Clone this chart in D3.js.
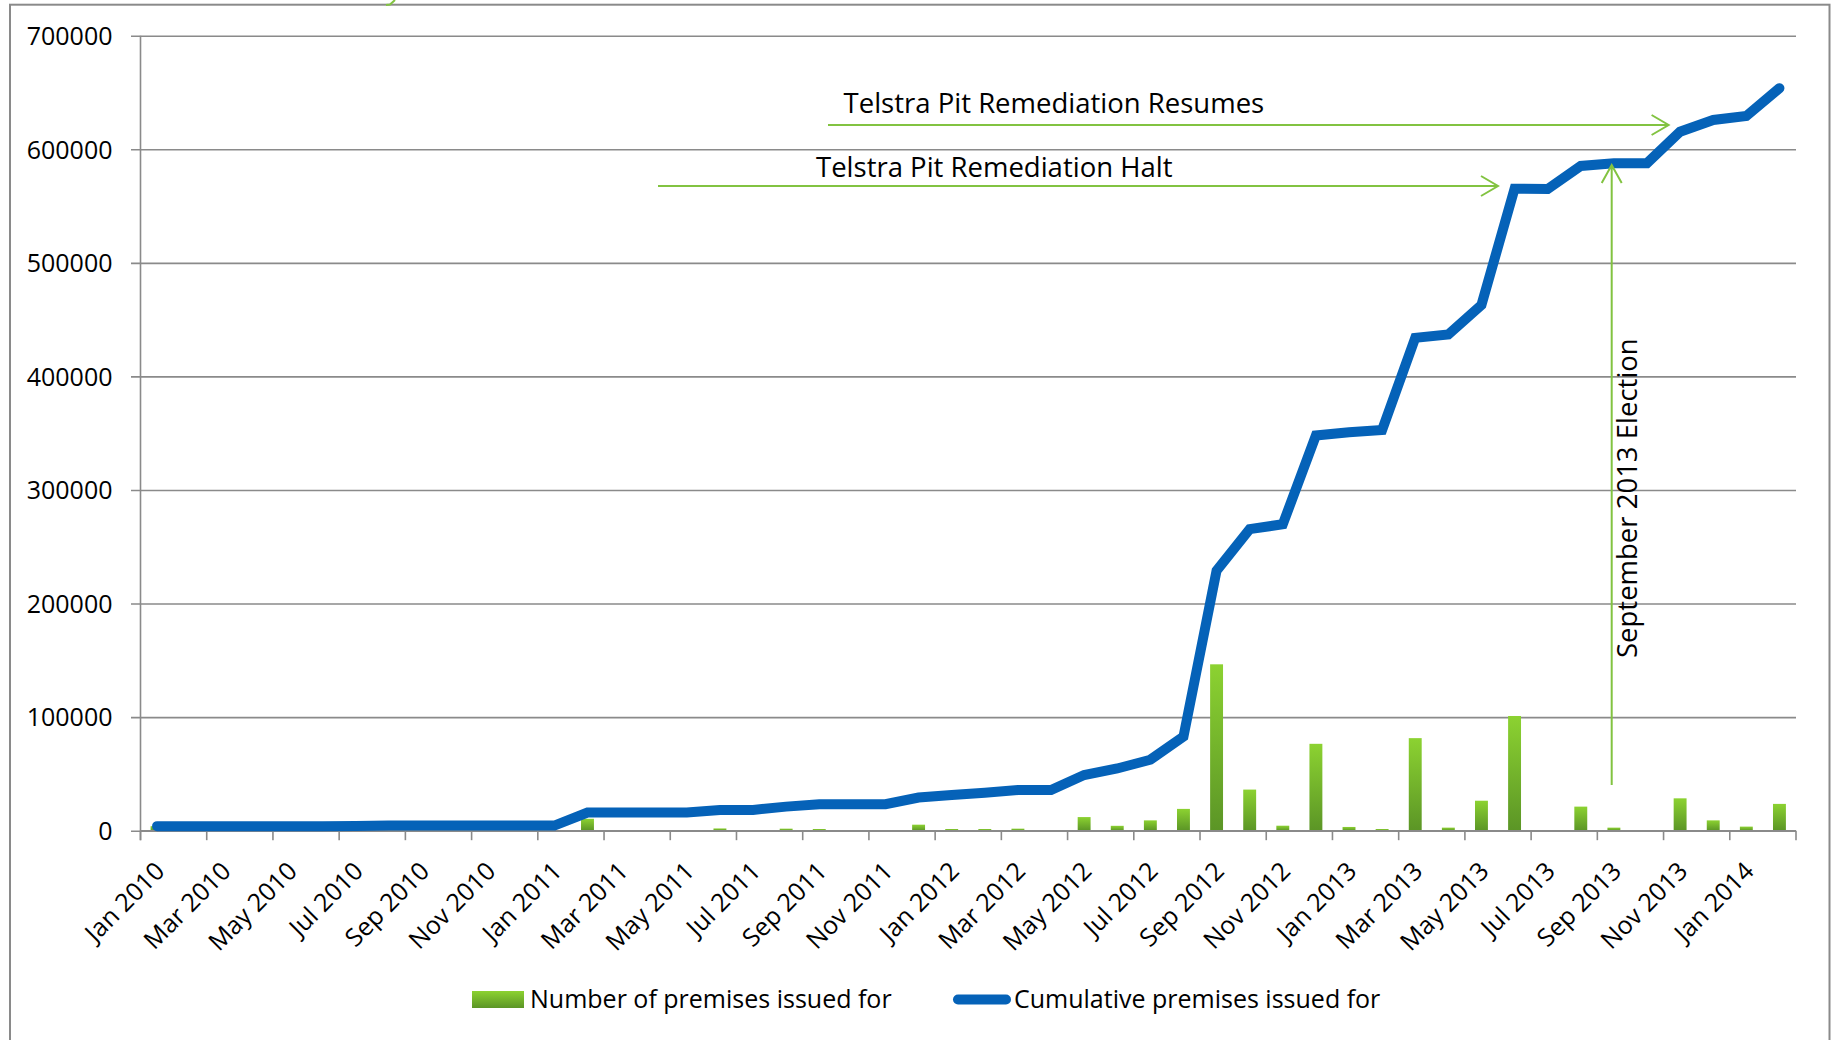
<!DOCTYPE html>
<html lang="en">
<head>
    <meta charset="UTF-8">
    <title>Premises issued for</title>
    <script src="https://d3js.org/d3.v7.min.js"></script>
    <style>
        body { margin: 0; background: #ffffff; }
        svg { display: block; font-family: "Open Sans", sans-serif; }
    </style>
</head>
<body>
    <svg id="chart" width="1832" height="1040"></svg>
    <script>
        // months (categories)
        const months = [
            "Jan 2010", "Feb 2010", "Mar 2010", "Apr 2010", "May 2010", "Jun 2010",
            "Jul 2010", "Aug 2010", "Sep 2010", "Oct 2010", "Nov 2010", "Dec 2010",
            "Jan 2011", "Feb 2011", "Mar 2011", "Apr 2011", "May 2011", "Jun 2011",
            "Jul 2011", "Aug 2011", "Sep 2011", "Oct 2011", "Nov 2011", "Dec 2011",
            "Jan 2012", "Feb 2012", "Mar 2012", "Apr 2012", "May 2012", "Jun 2012",
            "Jul 2012", "Aug 2012", "Sep 2012", "Oct 2012", "Nov 2012", "Dec 2012",
            "Jan 2013", "Feb 2013", "Mar 2013", "Apr 2013", "May 2013", "Jun 2013",
            "Jul 2013", "Aug 2013", "Sep 2013", "Oct 2013", "Nov 2013", "Dec 2013",
            "Jan 2014", "Feb 2014"
        ];

        // Number of premises issued for (per month)
        const issued = [
            4000, 0, 0, 0, 0, 0, 0, 0, 0, 0, 0, 0,
            0, 10500, 0, 0, 0, 2000, 0, 1800, 1500, 0, 0, 5300,
            1500, 1500, 1800, 0, 12000, 4300, 9100, 19200, 146500, 36200, 4400, 76500,
            3300, 1500, 81500, 2700, 26400, 101000, 0, 21200, 2700, 0, 28500, 9100,
            3600, 23600
        ];

        // Cumulative premises issued for
        const cumulative = [
            4000, 4000, 4000, 4000, 4000, 4000, 4200, 4500, 4500, 4500, 4500, 4500,
            4500, 16000, 16000, 16000, 16000, 18300, 18300, 21200, 23300, 23300, 23300, 29200,
            31400, 33500, 35800, 35800, 49000, 54800, 62500, 82800, 229000, 265600, 269800, 348000,
            350800, 352900, 434000, 437000, 463000, 565300, 565000, 585300, 587700, 587700, 615500, 625800,
            629300, 653800
        ];

        const yTicks = [0, 100000, 200000, 300000, 400000, 500000, 600000, 700000];
        const labelMonths = months.filter((m, i) => i % 2 === 0);

        const svg = d3.select("#chart");
        const plotLeft = 140.5, plotRight = 1796, plotTop = 35.7, plotBottom = 830.7;
        const gridColor = "#8a8a8a";
        const green = "#82c341";
        const blue = "#0562b8";

        const x = d3.scaleBand().domain(months).range([plotLeft, plotRight]).padding(0);
        const y = d3.scaleLinear().domain([0, 700000]).range([plotBottom, plotTop]);

        // bar gradient
        const defs = svg.append("defs");
        const grad = defs.append("linearGradient")
            .attr("id", "barGrad").attr("x1", 0).attr("y1", 0).attr("x2", 0).attr("y2", 1);
        grad.append("stop").attr("offset", "0%").attr("stop-color", "#8cd231");
        grad.append("stop").attr("offset", "100%").attr("stop-color", "#5b9526");

        // outer chart border
        svg.append("rect")
            .attr("x", 10).attr("y", 4.7)
            .attr("width", 1819.5).attr("height", 1100)
            .attr("fill", "none").attr("stroke", gridColor).attr("stroke-width", 2);

        // little green fragment at the top edge
        svg.append("path")
            .attr("d", "M386,5 L390,4.5 L395,0")
            .attr("fill", "none").attr("stroke", green).attr("stroke-width", 2);

        // y grid + labels
        const yAxis = d3.axisLeft(y)
            .tickValues(yTicks)
            .tickSize(-(plotRight - 131))
            .tickSizeOuter(0)
            .tickPadding(18.5)
            .tickFormat(d3.format("d"));
        const gy = svg.append("g").attr("transform", "translate(131,0)").call(yAxis);
        gy.select(".domain").remove();
        gy.selectAll(".tick line").attr("stroke", gridColor).attr("stroke-width", 1.6);
        gy.selectAll(".tick text")
            .attr("font-family", "Open Sans")
            .attr("font-size", 25)
            .attr("fill", "#000")
            .attr("dy", "0.35em");

        // y axis line
        svg.append("line")
            .attr("x1", plotLeft).attr("x2", plotLeft)
            .attr("y1", plotTop).attr("y2", plotBottom + 9.5)
            .attr("stroke", gridColor).attr("stroke-width", 1.6);

        // x axis ticks (category boundaries, every 2nd)
        const tickPos = months.filter((m, i) => i % 2 === 0).map(m => x(m)).concat([plotRight]);
        svg.append("g").selectAll("line")
            .data(tickPos)
            .join("line")
            .attr("x1", d => d).attr("x2", d => d)
            .attr("y1", plotBottom).attr("y2", plotBottom + 9.5)
            .attr("stroke", gridColor).attr("stroke-width", 1.6);

        // bars
        const barW = x.bandwidth() * 0.39;
        svg.append("g").selectAll("rect")
            .data(months.map((m, i) => ({ m, v: issued[i] })).filter(d => d.v > 0))
            .join("rect")
            .attr("x", d => x(d.m) + x.bandwidth() / 2 - barW / 2)
            .attr("y", d => y(d.v))
            .attr("width", barW)
            .attr("height", d => plotBottom - y(d.v))
            .attr("fill", "url(#barGrad)");

        // x axis line
        svg.append("line")
            .attr("x1", plotLeft).attr("x2", plotRight)
            .attr("y1", plotBottom).attr("y2", plotBottom)
            .attr("stroke", gridColor).attr("stroke-width", 1.6);

        // cumulative line
        const line = d3.line()
            .x((d, i) => x(months[i]) + x.bandwidth() / 2)
            .y(d => y(d));
        svg.append("path")
            .datum(cumulative)
            .attr("d", line)
            .attr("fill", "none")
            .attr("stroke", blue)
            .attr("stroke-width", 10)
            .attr("stroke-linecap", "round")
            .attr("stroke-linejoin", "miter");

        // x labels
        svg.append("g").selectAll("text")
            .data(labelMonths)
            .join("text")
            .attr("transform", d => `translate(${x(d) + x.bandwidth() / 2 + 9},${plotBottom + 42}) rotate(-45)`)
            .attr("text-anchor", "end")
            .attr("font-size", 25)
            .attr("fill", "#000")
            .text(d => d);

        // annotations
        function arrowRight(x1, x2, yy) {
            svg.append("path")
                .attr("d", `M${x1},${yy} L${x2},${yy} M${x2 - 17},${yy - 10} L${x2},${yy} L${x2 - 17},${yy + 10}`)
                .attr("fill", "none").attr("stroke", green).attr("stroke-width", 2);
        }
        arrowRight(828, 1668.6, 125);
        arrowRight(658, 1498, 186);

        svg.append("text")
            .attr("x", 843.6).attr("y", 112.7)
            .attr("font-size", 27.5).attr("fill", "#000")
            .text("Telstra Pit Remediation Resumes");
        svg.append("text")
            .attr("x", 816).attr("y", 177.3)
            .attr("font-size", 27.5).attr("fill", "#000")
            .text("Telstra Pit Remediation Halt");

        // election arrow (vertical)
        const ex = 1611.7;
        svg.append("path")
            .attr("d", `M${ex},785 L${ex},165 M${ex - 10},183 L${ex},165 L${ex + 10},183`)
            .attr("fill", "none").attr("stroke", green).attr("stroke-width", 2);
        svg.append("text")
            .attr("transform", `translate(1637,658) rotate(-90)`)
            .attr("font-size", 27.5).attr("fill", "#000")
            .text("September 2013 Election");

        // legend
        svg.append("rect")
            .attr("x", 472).attr("y", 991).attr("width", 52).attr("height", 17)
            .attr("fill", "url(#barGrad)");
        svg.append("text")
            .attr("x", 530).attr("y", 1008)
            .attr("font-size", 25).attr("fill", "#000")
            .text("Number of premises issued for");
        svg.append("line")
            .attr("x1", 958).attr("x2", 1006).attr("y1", 999.5).attr("y2", 999.5)
            .attr("stroke", blue).attr("stroke-width", 10).attr("stroke-linecap", "round");
        svg.append("text")
            .attr("x", 1014).attr("y", 1008)
            .attr("font-size", 25).attr("fill", "#000")
            .text("Cumulative premises issued for");
    </script>
</body>
</html>
